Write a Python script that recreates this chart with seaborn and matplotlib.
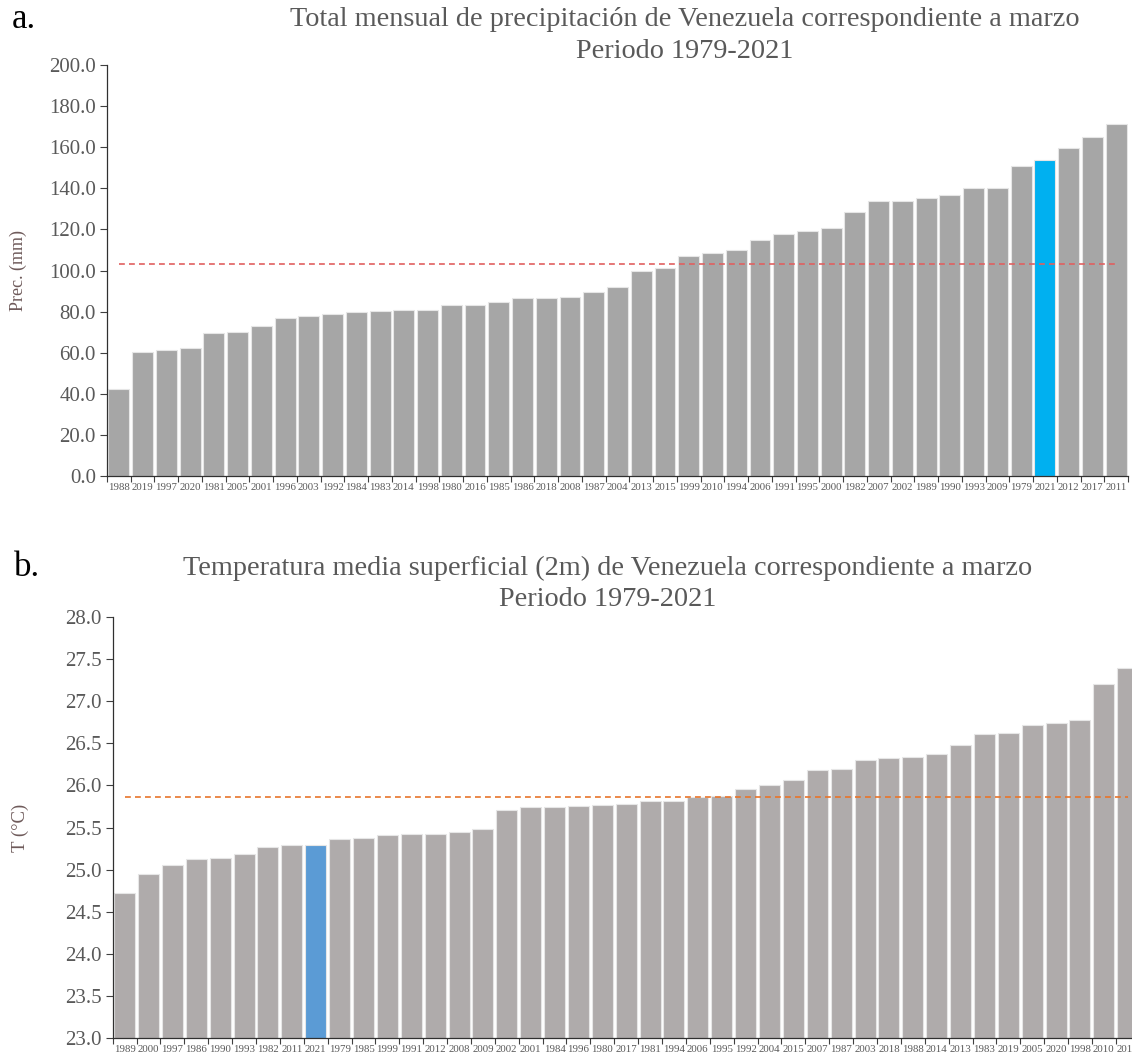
import numpy as np
import pandas as pd
import matplotlib
matplotlib.use("Agg")
import matplotlib.pyplot as plt
import seaborn as sns
from matplotlib.ticker import FixedLocator, FormatStrFormatter

# March precipitation (mm), years sorted by value
prec_years = ["1988", "2019", "1997", "2020", "1981", "2005", "2001", "1996", "2003", "1992",
              "1984", "1983", "2014", "1998", "1980", "2016", "1985", "1986", "2018", "2008",
              "1987", "2004", "2013", "2015", "1999", "2010", "1994", "2006", "1991", "1995",
              "2000", "1982", "2007", "2002", "1989", "1990", "1993", "2009", "1979", "2021",
              "2012", "2017", "2011"]
prec_values = [42.5, 60.1, 61.3, 62.4, 69.4, 70.0, 73.1, 77.1, 78.0, 78.9,
               79.6, 80.1, 80.9, 80.9, 83.0, 83.0, 84.8, 86.7, 86.7, 87.0,
               89.6, 91.9, 99.7, 101.1, 107.0, 108.4, 109.9, 114.7, 118.0, 119.4,
               120.6, 128.4, 133.9, 133.9, 135.3, 136.5, 140.2, 140.2, 150.7, 153.6,
               159.6, 165.2, 171.5]

# March 2 m mean temperature (°C), years sorted by value
temp_years = ["1989", "2000", "1997", "1986", "1990", "1993", "1982", "2011", "2021", "1979",
              "1985", "1999", "1991", "2012", "2008", "2009", "2002", "2001", "1984", "1996",
              "1980", "2017", "1981", "1994", "2006", "1995", "1992", "2004", "2015", "2007",
              "1987", "2003", "2018", "1988", "2014", "2013", "1983", "2019", "2005", "2020",
              "1998", "2010", "2016"]
temp_values = [24.72, 24.95, 25.06, 25.12, 25.14, 25.18, 25.27, 25.29, 25.29, 25.36,
               25.38, 25.41, 25.42, 25.42, 25.45, 25.48, 25.71, 25.74, 25.74, 25.75,
               25.77, 25.78, 25.81, 25.81, 25.86, 25.88, 25.96, 26.00, 26.07, 26.18,
               26.20, 26.30, 26.33, 26.34, 26.37, 26.48, 26.61, 26.62, 26.72, 26.74,
               26.78, 27.20, 27.40]

highlight_year = "2021"

sns.set_theme(style="white")
plt.rcParams["font.family"] = ["Liberation Serif", "DejaVu Serif"]

W, H = 1132, 1059
fig = plt.figure(figsize=(W / 100, H / 100), dpi=100)

TEXT_GRAY = "#595959"
LABEL_COLOR = "#6e5a5a"


def draw_panel(ax, years, values, base_color, hi_color, mean_color, ylim, yticks):
    df = pd.DataFrame({"year": years, "value": values})
    palette = {y: (hi_color if y == highlight_year else base_color) for y in years}
    sns.barplot(data=df, x="year", y="value", hue="year", palette=palette, order=years,
                hue_order=years, legend=False, width=0.88, saturation=1.0,
                edgecolor="#e6e6e6", linewidth=0.8, ax=ax)
    n = len(years)
    mean_val = float(np.mean(values))
    ax.plot([0, n - 1], [mean_val, mean_val], linestyle=(0, (3.5, 2.5)),
            color=mean_color, linewidth=1.2, zorder=5)
    ax.set_xlim(-0.5, n - 0.5)
    ax.set_ylim(*ylim)
    ax.set_yticks(yticks)
    ax.yaxis.set_major_formatter(FormatStrFormatter("%.1f"))
    # tick marks on category boundaries, labels at the bar centres
    ax.xaxis.set_major_locator(FixedLocator(np.arange(-0.5, n, 1.0)))
    ax.xaxis.set_minor_locator(FixedLocator(np.arange(n)))
    ax.set_xticklabels([], minor=False)
    ax.set_xticklabels(years, minor=True)
    ax.tick_params(axis="x", which="major", direction="out", length=4, width=0.8,
                   color="#404040", bottom=True)
    ax.tick_params(axis="x", which="minor", length=0, labelsize=7.8,
                   labelcolor=TEXT_GRAY, pad=5)
    ax.tick_params(axis="y", direction="out", length=5, width=0.8, color="#404040",
                   left=True, labelsize=15, labelcolor=TEXT_GRAY, pad=3)
    ax.set_xlabel("")
    ax.set_ylabel("")
    for side in ("top", "right"):
        ax.spines[side].set_visible(False)
    for side in ("left", "bottom"):
        ax.spines[side].set_color("#303030")
        ax.spines[side].set_linewidth(0.9)
    ax.grid(False)
    ax.set_facecolor("white")


# Panel a: precipitation
ax1 = fig.add_axes([107 / W, 1 - 476 / H, 1021 / W, (476 - 65) / H])
draw_panel(ax1, prec_years, prec_values, "#a6a6a6", "#00b0f0", "#e06060",
           (0, 200), np.arange(0, 200.1, 20))

# Panel b: temperature
ax2 = fig.add_axes([112.7 / W, 1 - 1038 / H, 1027 / W, (1038 - 617) / H])
draw_panel(ax2, temp_years, temp_values, "#afabab", "#5b9bd5", "#e8742a",
           (23, 28), np.arange(23, 28.01, 0.5))

# Titles, panel letters and axis labels
fig.text(685 / W, 1 - 19 / H, "Total mensual de precipitación de Venezuela correspondiente a marzo",
         ha="center", va="center", fontsize=20.3, color=TEXT_GRAY)
fig.text(685 / W, 1 - 51 / H, "Periodo 1979-2021", ha="center", va="center",
         fontsize=20.3, color=TEXT_GRAY)
fig.text(608 / W, 1 - 568 / H, "Temperatura media superficial (2m) de Venezuela correspondiente a marzo",
         ha="center", va="center", fontsize=20.3, color=TEXT_GRAY)
fig.text(608 / W, 1 - 600 / H, "Periodo 1979-2021", ha="center", va="center",
         fontsize=20.3, color=TEXT_GRAY)

fig.text(12 / W, 1 - 20 / H, "a.", ha="left", va="center", fontsize=25, color="black")
fig.text(14 / W, 1 - 568 / H, "b.", ha="left", va="center", fontsize=25, color="black")

fig.text(18 / W, 1 - 270 / H, "Prec. (mm)", ha="center", va="center", rotation=90,
         fontsize=13, color=LABEL_COLOR)
fig.text(20 / W, 1 - 828 / H, "T (°C)", ha="center", va="center", rotation=90,
         fontsize=13.5, color=LABEL_COLOR)

fig.savefig("out.png", dpi=100, facecolor="white")
